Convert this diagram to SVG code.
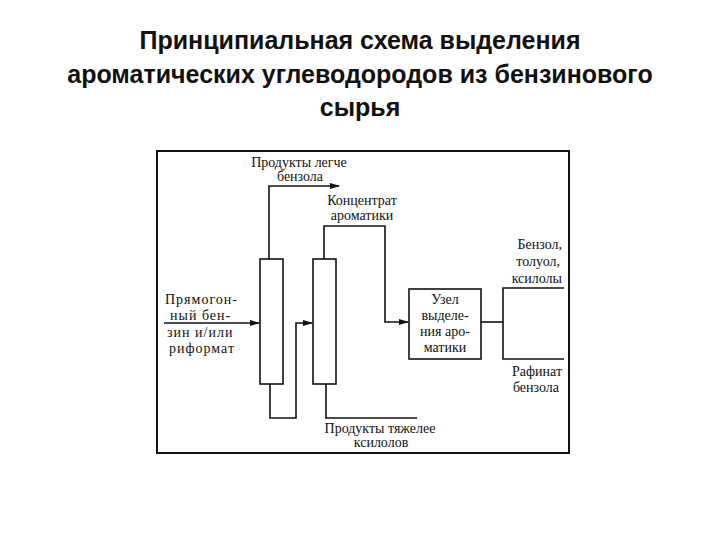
<svg xmlns="http://www.w3.org/2000/svg" width="720" height="540" viewBox="0 0 720 540">
<defs>
<style>
.t{font-family:"Liberation Sans","DejaVu Sans",sans-serif;font-weight:bold;font-size:25px;fill:#111;text-anchor:middle}
.l{font-family:"Liberation Serif","DejaVu Serif",serif;font-size:14px;fill:#111}
.c{text-anchor:middle}
.e{text-anchor:end}
.w{letter-spacing:1px}
.s{fill:none;stroke:#111;stroke-width:1.6}
.b{fill:#fff;stroke:#111;stroke-width:1.6}
</style>
<marker id="ah" markerWidth="10" markerHeight="8" refX="9" refY="4" orient="auto" markerUnits="userSpaceOnUse">
<path d="M0,1 L10,4 L0,7 Z" fill="#111"/>
</marker>
</defs>
<rect width="720" height="540" fill="#fff"/>
<g id="title">
<text class="t" x="360" y="49">Принципиальная схема выделения</text>
<text class="t" x="360" y="83">ароматических углеводородов из бензинового</text>
<text class="t" x="360" y="116">сырья</text>
</g>
<rect id="frame" x="157" y="151" width="412" height="302" fill="none" stroke="#111" stroke-width="2"/>
<g id="connectors">
<path class="s" d="M164,323 H259" marker-end="url(#ah)"/>
<path class="s" d="M269,259 V186 H339" marker-end="url(#ah)"/>
<path class="s" d="M270,384 V418 H296 V323 H312" marker-end="url(#ah)"/>
<path class="s" d="M324,259 V226 H385 V322 H408" marker-end="url(#ah)"/>
<path class="s" d="M326,384 V418 H417"/>
<path class="s" d="M481,322 H503"/>
<path class="s" d="M564,288 H503 V359 H564"/>
</g>
<g id="column1"><rect class="b" x="260" y="259" width="23" height="125"/></g>
<g id="column2"><rect class="b" x="313" y="259" width="23" height="125"/></g>
<g id="unit">
<rect class="b" x="409" y="289" width="72" height="70"/>
<text class="l c" x="445" y="304">Узел</text>
<text class="l c" x="445" y="320">выделе-</text>
<text class="l c" x="445" y="336">ния аро-</text>
<text class="l c" x="445" y="352">матики</text>
</g>
<g id="feed">
<text class="l w" x="165" y="304">Прямогон-</text>
<text class="l w" x="170" y="320">ный бен-</text>
<text class="l w" x="167" y="337">зин и/или</text>
<text class="l w" x="169" y="353">риформат</text>
</g>
<g id="light">
<text class="l c" x="299" y="167">Продукты легче</text>
<text class="l c" x="300" y="181">бензола</text>
</g>
<g id="concentrate">
<text class="l c" x="362" y="205">Концентрат</text>
<text class="l c" x="362" y="220">ароматики</text>
</g>
<g id="heavy">
<text class="l c" x="380" y="433">Продукты тяжелее</text>
<text class="l c" x="381" y="447">ксилолов</text>
</g>
<g id="btx">
<text class="l e" x="562" y="249">Бензол,</text>
<text class="l e" x="560" y="266">толуол,</text>
<text class="l e" x="562" y="283">ксилолы</text>
</g>
<g id="raffinate">
<text class="l e" x="562" y="376">Рафинат</text>
<text class="l e" x="559" y="392">бензола</text>
</g>
</svg>
